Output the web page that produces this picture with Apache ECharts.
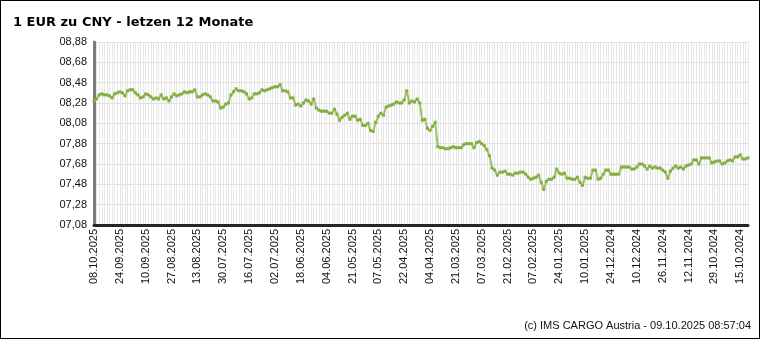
<!DOCTYPE html>
<html>
<head>
<meta charset="utf-8">
<script src="https://cdn.jsdelivr.net/npm/echarts@6/dist/echarts.min.js"></script>
<style>
html,body{margin:0;padding:0;background:#fff;}
#wrap{position:absolute;left:0;top:0;width:758px;height:337px;border:1px solid #000;background:#fff;}
#chart{width:758px;height:337px;}
</style>
</head>
<body>
<div id="wrap"><div id="chart"></div></div>
<script>
// Title / footer
const titleText = '1 EUR zu CNY - letzen 12 Monate';
const footerText = '(c) IMS CARGO Austria - 09.10.2025 08:57:04';

// X tick labels (every 10th business day, newest on the left)
const xTickLabels = ['08.10.2025','24.09.2025','10.09.2025','27.08.2025','13.08.2025','30.07.2025','16.07.2025','02.07.2025','18.06.2025','04.06.2025','21.05.2025','07.05.2025','22.04.2025','04.04.2025','21.03.2025','07.03.2025','21.02.2025','07.02.2025','24.01.2025','10.01.2025','24.12.2024','10.12.2024','26.11.2024','12.11.2024','29.10.2024','15.10.2024'];

// Y ticks
const yTicks = [7.08, 7.28, 7.48, 7.68, 7.88, 8.08, 8.28, 8.48, 8.68, 8.88];
const yTickLabels = ['07,08','07,28','07,48','07,68','07,88','08,08','08,28','08,48','08,68','08,88'];

// Rates, newest first (Oct 2025 -> Jun 2025)
const ratesPart1 = [
8.30, 8.32, 8.36, 8.37, 8.36, 8.36, 8.35, 8.33, 8.37, 8.38,
8.39, 8.38, 8.35, 8.40, 8.41, 8.41, 8.38, 8.36, 8.33, 8.34,
8.37, 8.36, 8.34, 8.32, 8.33, 8.32, 8.36, 8.32, 8.33, 8.30,
8.34, 8.37, 8.35, 8.36, 8.37, 8.39, 8.38, 8.39, 8.39, 8.41,
8.34, 8.34, 8.36, 8.37, 8.36, 8.34, 8.30, 8.30, 8.29, 8.23,
8.24, 8.27, 8.28, 8.36, 8.39, 8.42, 8.40, 8.40, 8.39, 8.37,
8.32, 8.33, 8.37, 8.37, 8.38, 8.41, 8.40, 8.41, 8.42, 8.43,
8.44, 8.44, 8.46, 8.40, 8.40, 8.39, 8.33, 8.33, 8.26, 8.27,
8.25, 8.28, 8.31, 8.30, 8.27, 8.32, 8.23, 8.21, 8.20, 8.20,
8.20, 8.18, 8.18, 8.22
];
// Jun 2025 -> Feb 2025
const ratesPart2 = [
8.17, 8.11, 8.14, 8.16, 8.18, 8.12, 8.15, 8.15, 8.11, 8.12,
8.06, 8.06, 8.08, 8.01, 8.00, 8.09, 8.15, 8.18, 8.16, 8.24,
8.25, 8.26, 8.27, 8.29, 8.28, 8.28, 8.31, 8.40, 8.28, 8.30,
8.29, 8.32, 8.28, 8.11, 8.12, 8.03, 8.01, 8.05, 8.09, 7.85,
7.84, 7.84, 7.83, 7.83, 7.84, 7.85, 7.84, 7.84, 7.84, 7.87,
7.88, 7.88, 7.88, 7.84, 7.89, 7.90, 7.88, 7.86, 7.82, 7.76,
7.64, 7.62, 7.57, 7.60, 7.60, 7.61, 7.58, 7.58, 7.57, 7.59,
7.59, 7.60, 7.60, 7.58, 7.55, 7.53, 7.54, 7.55, 7.57, 7.50,
7.43, 7.51, 7.53, 7.53
];
// Feb 2025 -> Oct 2024
const ratesPart3 = [
7.55, 7.63, 7.59, 7.58, 7.59, 7.54, 7.54, 7.53, 7.53, 7.55,
7.50, 7.47, 7.55, 7.54, 7.54, 7.62, 7.62, 7.53, 7.54, 7.58,
7.62, 7.62, 7.58, 7.58, 7.58, 7.58, 7.65, 7.65, 7.65, 7.65,
7.63, 7.63, 7.65, 7.68, 7.68, 7.66, 7.63, 7.66, 7.64, 7.65,
7.64, 7.64, 7.62, 7.60, 7.54, 7.61, 7.64, 7.66, 7.64, 7.65,
7.63, 7.66, 7.67, 7.68, 7.72, 7.72, 7.68, 7.74, 7.74, 7.74,
7.74, 7.69, 7.70, 7.71, 7.71, 7.68, 7.69, 7.71, 7.72, 7.71,
7.75, 7.75, 7.77, 7.73, 7.73, 7.74
];

const rates = ratesPart1.concat(ratesPart2, ratesPart3);
const categories = rates.map((v, i) => String(i));

const chart = echarts.init(document.getElementById('chart'), null, {renderer: 'canvas'});
chart.setOption({
  animation: false,
  backgroundColor: '#fff',
  title: {
    text: titleText,
    left: 7, top: 10,
    textStyle: {fontFamily: 'DejaVu Sans', fontWeight: 'bold', fontSize: 13, color: '#000'}
  },
  graphic: [{
    type: 'text', right: 8, bottom: 7,
    style: {text: footerText, font: '11px "Liberation Sans", Arial', fill: '#111'}
  }],
  grid: {left: 93, right: 11, top: 41, bottom: 113, containLabel: false},
  xAxis: {
    type: 'category',
    data: categories,
    boundaryGap: false,
    axisLine: {show: true, lineStyle: {color: '#262626', width: 3}},
    axisTick: {show: false},
    splitLine: {show: true, interval: 0, lineStyle: {color: '#e6e6e6', width: 1}},
    axisLabel: {
      interval: 9, rotate: 90, margin: 4,
      fontFamily: 'Liberation Sans', fontSize: 11, color: '#111',
      formatter: (v, idx) => xTickLabels[Math.round(idx / 10)] || ''
    }
  },
  yAxis: {
    type: 'value',
    min: 7.08, max: 8.88,
    axisLine: {show: true, lineStyle: {color: '#7a7a7a', width: 3}},
    axisTick: {show: false, customValues: yTicks},
    splitLine: {show: true, lineStyle: {color: '#dedede', width: 1}},
    axisLabel: {
      customValues: yTicks, margin: 7,
      fontFamily: 'Liberation Sans', fontSize: 11, color: '#111',
      formatter: v => {
        const k = yTicks.findIndex(t => Math.abs(t - v) < 1e-6);
        return k >= 0 ? yTickLabels[k] : '';
      }
    }
  },
  series: [{
    type: 'line',
    data: rates,
    showSymbol: true, showAllSymbol: true,
    symbol: 'rect', symbolSize: 3,
    itemStyle: {color: '#84ae42'},
    lineStyle: {color: '#9cc463', width: 2},
    z: 5
  }]
});
</script>
</body>
</html>
